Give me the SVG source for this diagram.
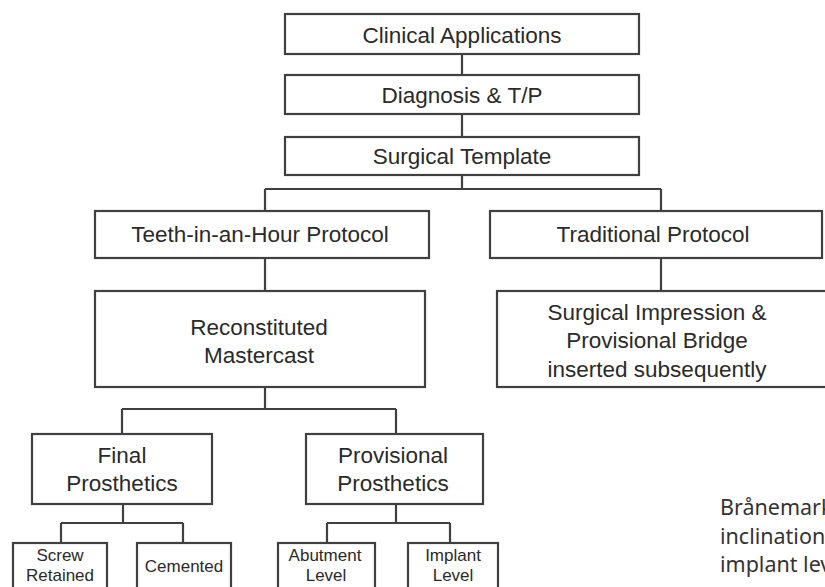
<svg xmlns="http://www.w3.org/2000/svg" width="825" height="587" viewBox="0 0 825 587">
<style>
  .box { fill: #ffffff; stroke: #404040; stroke-width: 2.2; }
  .lbl { font-family: "Liberation Sans", Arial, sans-serif; font-size: 22.5px; fill: #2a2a2a; text-anchor: middle; }
  .sm { font-family: "Liberation Sans", Arial, sans-serif; font-size: 17px; fill: #2a2a2a; text-anchor: middle; }
  .con { fill: none; stroke: #404040; stroke-width: 2.2; }
  .body { font-family: "Noto Sans", "DejaVu Sans", sans-serif; font-size: 21.5px; fill: #333333; }
</style>
<rect width="825" height="587" fill="#ffffff"/>
<g id="connectors">
  <path class="con" d="M462 54 V75 M462 114 V137 M462 175 V189 M265 189 H661 M265 189 V211 M661 189 V211"/>
  <path class="con" d="M265 258 V291 M661 258 V291"/>
  <path class="con" d="M265 387 V409 M122 409 H396 M122 409 V434 M396 409 V434"/>
  <path class="con" d="M123 504 V523 M61 523 H183 M61 523 V543 M183 523 V543"/>
  <path class="con" d="M396 504 V523 M327 523 H450 M327 523 V543 M450 523 V543"/>
</g>
<g id="clinical-applications">
  <rect class="box" x="285" y="14" width="354" height="40"/>
  <text class="lbl" x="462" y="43">Clinical Applications</text>
</g>
<g id="diagnosis">
  <rect class="box" x="285" y="75" width="354" height="39"/>
  <text class="lbl" x="462" y="103">Diagnosis &amp; T/P</text>
</g>
<g id="surgical-template">
  <rect class="box" x="285" y="137" width="354" height="38"/>
  <text class="lbl" x="462" y="164">Surgical Template</text>
</g>
<g id="teeth-in-an-hour">
  <rect class="box" x="95" y="211" width="334" height="47"/>
  <text class="lbl" x="260" y="242">Teeth-in-an-Hour Protocol</text>
</g>
<g id="traditional-protocol">
  <rect class="box" x="490" y="211" width="332" height="47"/>
  <text class="lbl" x="653" y="242">Traditional Protocol</text>
</g>
<g id="reconstituted-mastercast">
  <rect class="box" x="95" y="291" width="330" height="96"/>
  <text class="lbl" x="259" y="335">Reconstituted</text>
  <text class="lbl" x="259" y="363">Mastercast</text>
</g>
<g id="surgical-impression">
  <rect class="box" x="497" y="291" width="330" height="96"/>
  <text class="lbl" x="657" y="320">Surgical Impression &amp;</text>
  <text class="lbl" x="657" y="348">Provisional Bridge</text>
  <text class="lbl" x="657" y="377">inserted subsequently</text>
</g>
<g id="final-prosthetics">
  <rect class="box" x="32" y="434" width="180" height="70"/>
  <text class="lbl" x="122" y="463">Final</text>
  <text class="lbl" x="122" y="491">Prosthetics</text>
</g>
<g id="provisional-prosthetics">
  <rect class="box" x="306" y="434" width="177" height="70"/>
  <text class="lbl" x="393" y="463">Provisional</text>
  <text class="lbl" x="393" y="491">Prosthetics</text>
</g>
<g id="screw-retained">
  <rect class="box" x="13" y="543" width="94" height="60"/>
  <text class="sm" x="60" y="561">Screw</text>
  <text class="sm" x="60" y="581">Retained</text>
</g>
<g id="cemented">
  <rect class="box" x="137" y="543" width="94" height="60"/>
  <text class="sm" x="184" y="572">Cemented</text>
</g>
<g id="abutment-level">
  <rect class="box" x="278" y="543" width="97" height="60"/>
  <text class="sm" x="325" y="561">Abutment</text>
  <text class="sm" x="326" y="581">Level</text>
</g>
<g id="implant-level">
  <rect class="box" x="408" y="543" width="90" height="60"/>
  <text class="sm" x="453" y="561">Implant</text>
  <text class="sm" x="453" y="581">Level</text>
</g>
<g id="body-text">
  <text class="body" x="720" y="515">Brånemark</text>
  <text class="body" x="720" y="544">inclination</text>
  <text class="body" x="720" y="572">implant level</text>
</g>
</svg>
